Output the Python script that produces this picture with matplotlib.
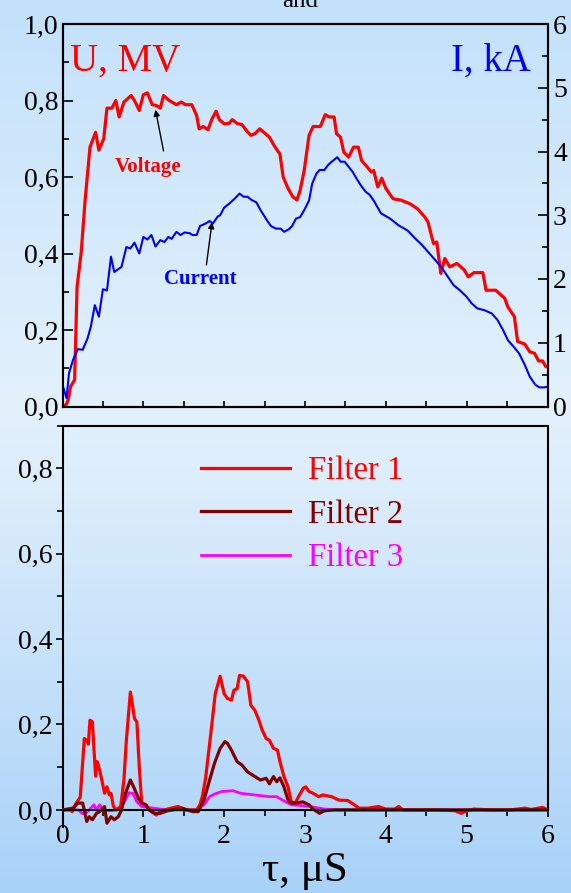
import numpy as np
import matplotlib
matplotlib.use("Agg")
import matplotlib.pyplot as plt
from matplotlib.ticker import MultipleLocator, FuncFormatter
from matplotlib.colors import LinearSegmentedColormap

# ---- data -------------------------------------------------------------
# Voltage, MV
t_u = [-0.05, 0.0, 0.04, 0.07, 0.10, 0.15, 0.18, 0.23, 0.28, 0.34, 0.41, 0.45, 0.51,
       0.55, 0.61, 0.66, 0.70, 0.76, 0.85, 0.89, 0.95, 1.00, 1.05, 1.11, 1.16, 1.21,
       1.25, 1.32, 1.41, 1.47, 1.52, 1.60, 1.66, 1.69, 1.74, 1.80, 1.85, 1.90, 1.94,
       2.00, 2.06, 2.10, 2.16, 2.22, 2.28, 2.33, 2.38, 2.44, 2.49, 2.56, 2.63, 2.69,
       2.73, 2.79, 2.85, 2.90, 2.94, 2.99, 3.05, 3.10, 3.19, 3.25, 3.30, 3.36, 3.39,
       3.44, 3.48, 3.54, 3.60, 3.66, 3.70, 3.77, 3.82, 3.85, 3.90, 3.95, 4.00, 4.09,
       4.18, 4.30, 4.39, 4.48, 4.52, 4.59, 4.63, 4.68, 4.73, 4.79, 4.88, 4.97, 5.02,
       5.09, 5.20, 5.24, 5.36, 5.47, 5.51, 5.59, 5.63, 5.72, 5.78, 5.84, 5.89, 5.94,
       5.98, 6.05]
voltage = [0.009, 0.004, 0.002, 0.017, 0.052, 0.070, 0.313, 0.400, 0.540, 0.678, 0.717,
           0.670, 0.700, 0.780, 0.780, 0.800, 0.757, 0.796, 0.813, 0.800, 0.774, 0.815,
           0.820, 0.789, 0.787, 0.780, 0.813, 0.800, 0.789, 0.796, 0.789, 0.789, 0.760,
           0.726, 0.732, 0.724, 0.752, 0.772, 0.750, 0.739, 0.740, 0.750, 0.740, 0.737,
           0.720, 0.709, 0.713, 0.726, 0.717, 0.704, 0.678, 0.660, 0.600, 0.570, 0.548,
           0.540, 0.565, 0.617, 0.709, 0.732, 0.732, 0.763, 0.757, 0.757, 0.713, 0.704,
           0.665, 0.652, 0.678, 0.678, 0.643, 0.626, 0.613, 0.617, 0.574, 0.597, 0.570,
           0.543, 0.540, 0.530, 0.517, 0.496, 0.483, 0.426, 0.430, 0.348, 0.387, 0.365,
           0.374, 0.357, 0.339, 0.350, 0.350, 0.304, 0.304, 0.283, 0.260, 0.235, 0.170,
           0.163, 0.143, 0.139, 0.119, 0.119, 0.104, 0.104]

# Current, kA
t_i = [-0.05, 0.00, 0.05, 0.08, 0.13, 0.19, 0.25, 0.31, 0.35, 0.40, 0.45, 0.50, 0.55,
       0.60, 0.64, 0.73, 0.79, 0.84, 0.89, 0.95, 1.00, 1.05, 1.10, 1.15, 1.21, 1.26,
       1.31, 1.35, 1.41, 1.46, 1.51, 1.57, 1.61, 1.66, 1.70, 1.77, 1.82, 1.86, 1.92,
       1.95, 2.00, 2.06, 2.13, 2.19, 2.24, 2.29, 2.34, 2.40, 2.45, 2.49, 2.54, 2.58,
       2.64, 2.70, 2.74, 2.80, 2.84, 2.89, 2.94, 2.99, 3.05, 3.09, 3.14, 3.18, 3.24,
       3.28, 3.33, 3.40, 3.44, 3.49, 3.54, 3.59, 3.64, 3.69, 3.75, 3.80, 3.85, 3.94,
       4.05, 4.16, 4.27, 4.36, 4.45, 4.54, 4.63, 4.70, 4.77, 4.84, 4.91, 5.00, 5.06,
       5.13, 5.22, 5.31, 5.38, 5.45, 5.51, 5.58, 5.65, 5.72, 5.78, 5.85, 5.90, 5.96,
       6.00, 6.05]
current = [0.12, 0.34, 0.13, 0.52, 0.73, 0.90, 0.89, 1.07, 1.25, 1.59, 1.41, 1.84, 1.82,
           2.35, 2.11, 2.19, 2.50, 2.48, 2.57, 2.40, 2.66, 2.62, 2.69, 2.51, 2.61, 2.58,
           2.66, 2.63, 2.74, 2.69, 2.73, 2.72, 2.69, 2.69, 2.83, 2.87, 2.91, 2.87, 2.98,
           3.00, 3.12, 3.18, 3.26, 3.34, 3.29, 3.29, 3.24, 3.20, 3.08, 3.00, 2.90, 2.83,
           2.79, 2.79, 2.74, 2.78, 2.83, 2.95, 2.97, 3.08, 3.23, 3.50, 3.65, 3.71, 3.71,
           3.78, 3.84, 3.91, 3.84, 3.84, 3.76, 3.68, 3.57, 3.47, 3.37, 3.32, 3.23, 3.03,
           2.95, 2.84, 2.76, 2.64, 2.53, 2.40, 2.27, 2.16, 2.03, 1.90, 1.83, 1.72, 1.62,
           1.54, 1.51, 1.46, 1.36, 1.20, 1.04, 0.94, 0.83, 0.65, 0.47, 0.34, 0.30, 0.30,
           0.31, 0.39]

# Filter signals
t_f1 = [0.00, 0.10, 0.12, 0.17, 0.22, 0.24, 0.27, 0.30, 0.32, 0.34, 0.37, 0.39, 0.41,
        0.43, 0.46, 0.50, 0.52, 0.55, 0.58, 0.60, 0.63, 0.67, 0.72, 0.76, 0.79, 0.84,
        0.87, 0.89, 0.92, 0.95, 0.98, 1.03, 1.10, 1.16, 1.21, 1.30, 1.43, 1.52, 1.66,
        1.70, 1.73, 1.77, 1.83, 1.89, 1.95, 2.00, 2.04, 2.09, 2.12, 2.16, 2.19, 2.24,
        2.29, 2.33, 2.38, 2.43, 2.47, 2.52, 2.56, 2.61, 2.66, 2.69, 2.74, 2.79, 2.83,
        2.88, 2.92, 2.98, 3.01, 3.05, 3.10, 3.17, 3.22, 3.33, 3.42, 3.53, 3.61, 3.67,
        3.78, 3.91, 4.00, 4.11, 4.16, 4.21, 4.63, 4.86, 4.93, 5.00, 5.09, 5.31, 5.54,
        5.72, 5.80, 5.94, 6.00]
filter1 = [0.000, 0.000, -0.004, 0.016, 0.030, 0.085, 0.167, 0.163, 0.154, 0.210, 0.206,
           0.140, 0.079, 0.113, 0.093, 0.058, 0.039, 0.054, 0.035, 0.039, 0.008, 0.000,
           0.008, 0.070, 0.163, 0.276, 0.241, 0.214, 0.206, 0.100, 0.016, 0.012, -0.004,
           -0.012, -0.004, 0.002, 0.008, 0.000, 0.000, 0.012, 0.031, 0.074, 0.171, 0.272,
           0.313, 0.272, 0.261, 0.257, 0.280, 0.284, 0.315, 0.313, 0.300, 0.245, 0.233,
           0.210, 0.187, 0.167, 0.163, 0.144, 0.140, 0.113, 0.078, 0.054, 0.019, 0.016,
           0.031, 0.051, 0.054, 0.043, 0.039, 0.031, 0.035, 0.031, 0.023, 0.022, 0.012,
           0.004, 0.004, 0.008, 0.002, 0.002, 0.008, 0.000, 0.000, -0.002, -0.008, -0.002,
           0.002, 0.000, 0.000, 0.004, 0.001, 0.006, 0.000]

t_f2 = [0.00, 0.13, 0.19, 0.25, 0.30, 0.33, 0.37, 0.42, 0.46, 0.52, 0.55, 0.60, 0.64,
        0.69, 0.73, 0.78, 0.84, 0.88, 0.94, 0.98, 1.03, 1.07, 1.14, 1.21, 1.30, 1.48,
        1.61, 1.68, 1.75, 1.82, 1.88, 1.95, 2.01, 2.04, 2.09, 2.16, 2.22, 2.29, 2.38,
        2.45, 2.52, 2.56, 2.61, 2.65, 2.69, 2.74, 2.79, 2.83, 2.90, 2.97, 3.05, 3.10,
        3.18, 3.24, 3.37, 4.00, 5.00, 6.00]
filter2 = [0.000, 0.004, 0.016, 0.016, -0.027, -0.016, -0.023, -0.008, -0.004, 0.008,
           -0.031, -0.016, -0.023, -0.016, 0.000, 0.039, 0.070, 0.054, 0.027, 0.016, 0.012,
           0.000, -0.008, -0.008, -0.002, 0.004, -0.004, -0.004, 0.023, 0.070, 0.109, 0.144,
           0.160, 0.156, 0.140, 0.113, 0.105, 0.089, 0.078, 0.070, 0.074, 0.061, 0.078,
           0.066, 0.075, 0.054, 0.023, 0.016, 0.016, 0.019, 0.012, 0.002, -0.008, -0.002,
           0.000, 0.000, 0.000, 0.000]

t_f3 = [0.00, 0.20, 0.24, 0.28, 0.33, 0.39, 0.42, 0.46, 0.50, 0.58, 0.67, 0.76, 0.82,
        0.87, 0.92, 0.98, 1.12, 1.30, 1.66, 1.75, 1.82, 1.88, 1.97, 2.11, 2.20, 2.38,
        2.56, 2.65, 2.74, 2.83, 2.97, 3.06, 3.24, 3.42, 6.00]
filter3 = [0.000, 0.000, -0.008, -0.009, 0.000, 0.012, 0.000, 0.012, 0.000, -0.002, 0.000,
           0.016, 0.040, 0.039, 0.019, 0.008, 0.004, 0.000, 0.000, 0.012, 0.031, 0.037,
           0.043, 0.045, 0.039, 0.035, 0.031, 0.031, 0.021, 0.012, 0.010, 0.008, 0.002,
           0.000, 0.000]

filter_labels = ["Filter 1", "Filter 2", "Filter 3"]
filter_colors = ["#ff0000", "#800000", "#ff00ff"]

# ---- styling -----------------------------------------------------------
plt.rcParams["font.family"] = ["Liberation Serif", "DejaVu Serif"]
TICK_FS = 20

comma = FuncFormatter(lambda v, p: f"{v:.1f}".replace(".", ","))

fig = plt.figure(figsize=(5.71, 8.93), dpi=100)
W, H = 571.0, 893.0

# light blue vertical gradient behind everything
bg = fig.add_axes([0, 0, 1, 1], zorder=-10)
bg.set_axis_off()
cmap = LinearSegmentedColormap.from_list(
    "bgblue",
    [(0.0, "#c3e1fb"), (0.45, "#e3f1fd"), (0.55, "#dcedfc"), (1.0, "#a9d2f8")])
grad = np.linspace(0, 1, 256).reshape(-1, 1)
bg.imshow(grad, aspect="auto", cmap=cmap, extent=[0, 1, 0, 1], origin="upper")
bg.set_xlim(0, 1)
bg.set_ylim(0, 1)

def fbox(x0, x1, ytop, ybot):
    return [x0 / W, 1 - ybot / H, (x1 - x0) / W, (ybot - ytop) / H]

# ---- top panel: voltage and current -------------------------------------
ax1 = fig.add_axes(fbox(62.5, 547.5, 24, 406.5))
ax1.set_facecolor("none")
ax1.plot(t_u, voltage, color="#ff0000", lw=2.3, zorder=3)
ax1.set_xlim(0, 6)
ax1.set_ylim(0, 1.0)
ax1.yaxis.set_major_locator(MultipleLocator(0.2))
ax1.yaxis.set_minor_locator(MultipleLocator(0.1))
ax1.yaxis.set_major_formatter(comma)
ax1.xaxis.set_major_locator(MultipleLocator(1))
ax1.xaxis.set_minor_locator(MultipleLocator(0.5))
ax1.tick_params(axis="x", which="both", direction="in", length=4, width=1.2,
                labelbottom=False)
ax1.tick_params(axis="y", which="major", direction="in", length=7, width=1.2,
                labelsize=TICK_FS, pad=3)
ax1.tick_params(axis="y", which="minor", direction="in", length=4, width=1.2)
for s in ax1.spines.values():
    s.set_linewidth(1.5)

ax1r = ax1.twinx()
ax1r.plot(t_i, current, color="#0000ff", lw=1.5, zorder=2)
ax1r.set_ylim(0, 6)
ax1r.set_xlim(0, 6)
ax1r.yaxis.set_major_locator(MultipleLocator(1))
ax1r.yaxis.set_minor_locator(MultipleLocator(0.5))
ax1r.tick_params(axis="y", which="major", direction="in", length=7, width=1.2,
                 labelsize=TICK_FS, pad=4)
ax1r.tick_params(axis="y", which="minor", direction="in", length=4, width=1.2)
for s in ax1r.spines.values():
    s.set_linewidth(1.5)

ax1.text(0.015, 0.95, "U, MV", transform=ax1.transAxes, color="#ff0000",
         fontsize=28, ha="left", va="top")
ax1.text(0.965, 0.95, "I, kA", transform=ax1.transAxes, color="#0000ff",
         fontsize=28, ha="right", va="top")

ax1.annotate("", xy=(1.15, 0.776), xytext=(1.25, 0.668),
             arrowprops=dict(arrowstyle="-|>", color="black", lw=1.0,
                             mutation_scale=9, shrinkA=0, shrinkB=0))
ax1.text(1.06, 0.626, "Voltage", color="#ff0000", fontsize=15, fontweight="bold",
         ha="center", va="center")
ax1.annotate("", xy=(1.85, 0.482), xytext=(1.78, 0.37),
             arrowprops=dict(arrowstyle="-|>", color="black", lw=1.0,
                             mutation_scale=9, shrinkA=0, shrinkB=0))
ax1.text(1.70, 0.334, "Current", color="#0000ff", fontsize=15, fontweight="bold",
         ha="center", va="center")

# ---- bottom panel: filter signals --------------------------------------
ax2 = fig.add_axes(fbox(62.5, 547.5, 425.5, 827))
ax2.set_facecolor("none")
series = [(t_f1, filter1), (t_f2, filter2), (t_f3, filter3)]
lws = [2.3, 2.3, 2.0]
for (tt, yy), lab, col, lw, z in zip(series, filter_labels, filter_colors, lws, [3, 4, 2]):
    ax2.plot(tt, yy, color=col, lw=lw, label=lab, zorder=z)
ax2.set_xlim(0, 6)
ax2.set_ylim(-0.04, 0.9)
ax2.spines["bottom"].set_position(("data", 0))
ax2.spines["right"].set_bounds(0, 0.9)
for s in ax2.spines.values():
    s.set_linewidth(1.5)
ax2.spines["bottom"].set_zorder(5)
ax2.yaxis.set_minor_locator(MultipleLocator(0.1))
ax2.set_yticks([0, 0.2, 0.4, 0.6, 0.8])
ax2.yaxis.set_major_formatter(comma)
ax2.xaxis.set_major_locator(MultipleLocator(1))
ax2.xaxis.set_minor_locator(MultipleLocator(0.5))
ax2.tick_params(axis="y", which="major", direction="out", length=5, width=1.2,
                labelsize=TICK_FS, pad=2)
ax2.tick_params(axis="x", which="major", direction="out", length=5, width=1.2,
                labelsize=TICK_FS, pad=5)
ax2.tick_params(axis="both", which="minor", direction="out", length=4, width=1.2)
ax2.set_xlabel("τ, μS", fontsize=31, labelpad=2)

leg = ax2.legend(loc="upper left", bbox_to_anchor=(0.285, 0.925), frameon=False,
                 fontsize=23.5, handlelength=2.75, handletextpad=0.55,
                 labelspacing=0.4, borderpad=0, borderaxespad=0,
                 labelcolor="linecolor")

fig.text(0.525, 0.999, "and", fontsize=18, ha="center", va="center", color="black")

fig.savefig("out.png", dpi=100)
